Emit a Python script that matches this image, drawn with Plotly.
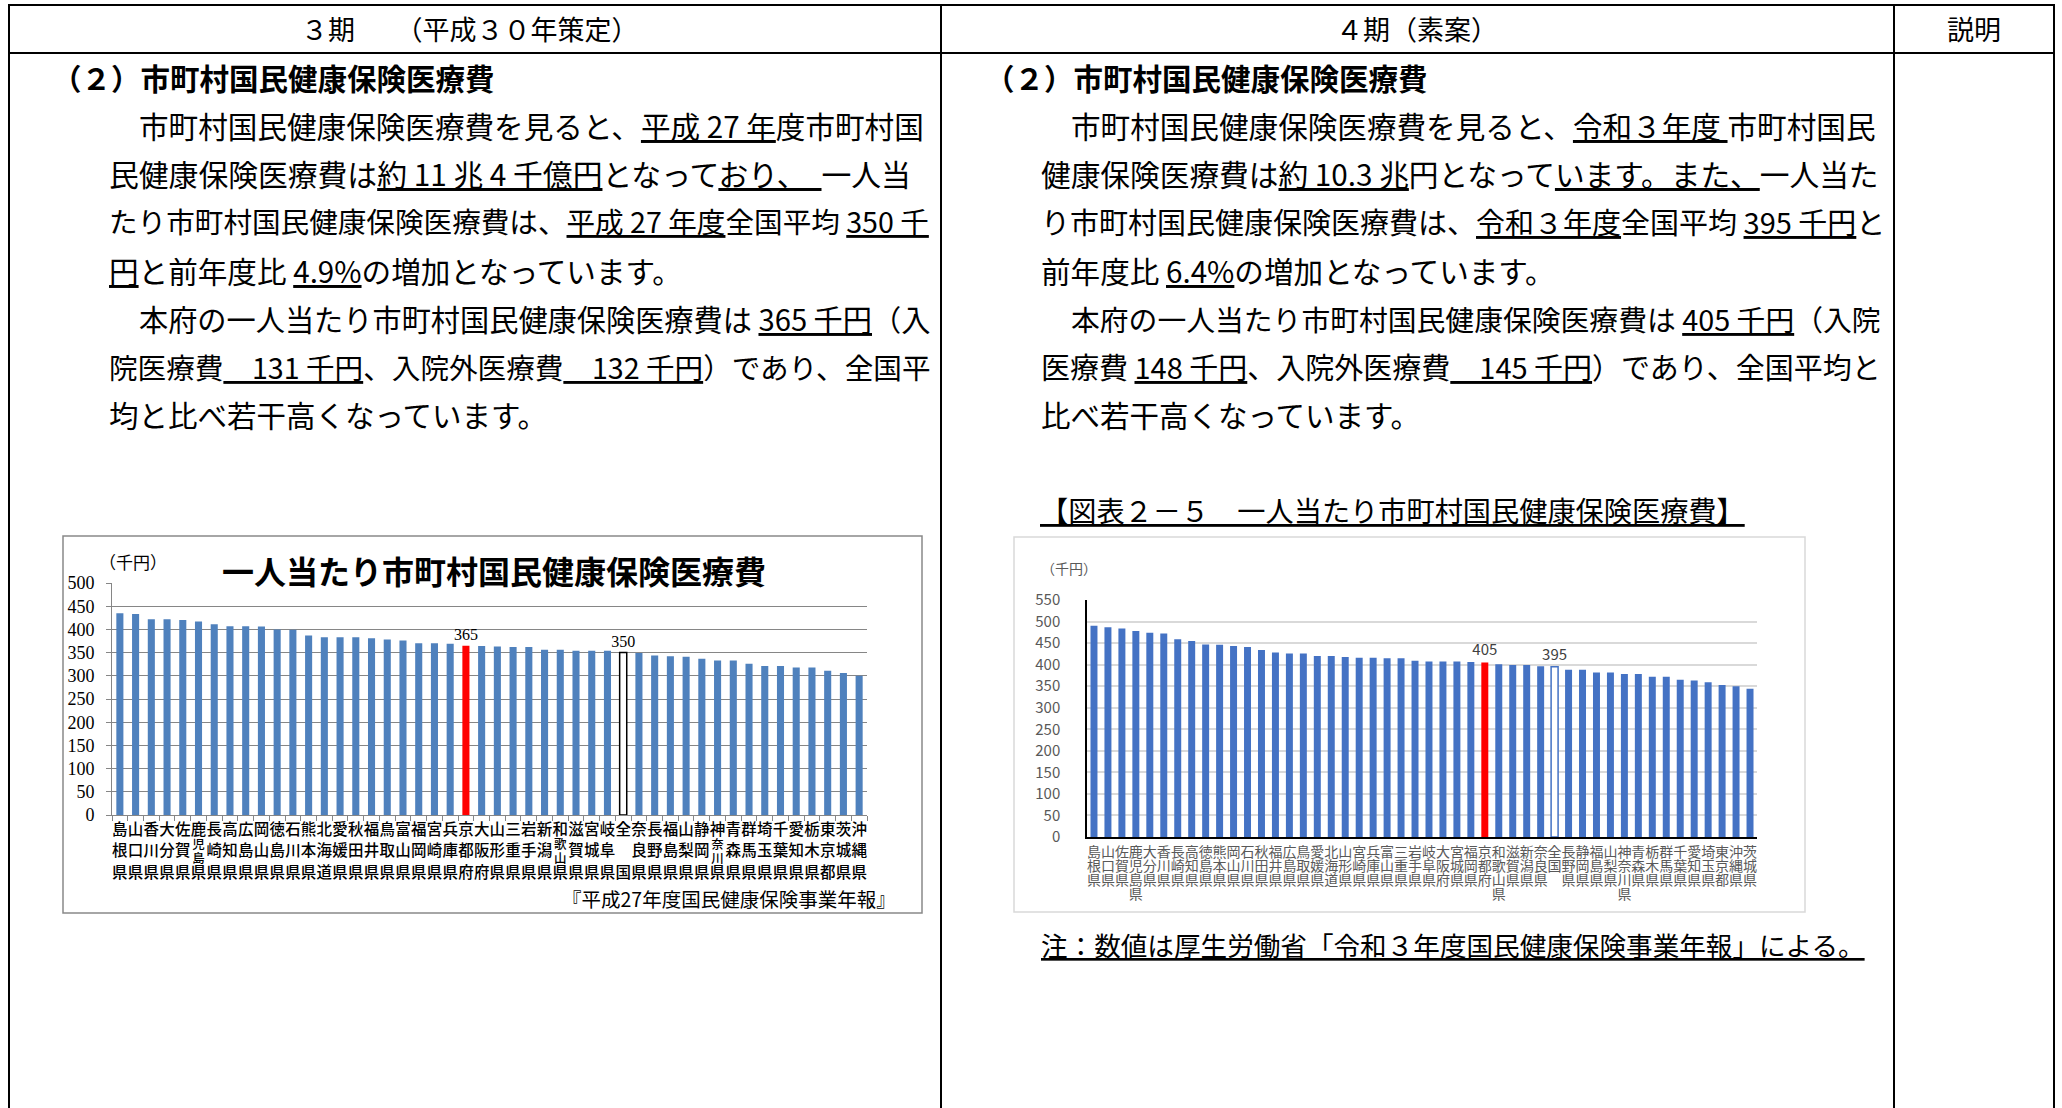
import plotly.graph_objects as go

W, H = 2062, 1108
JP = "Noto Sans CJK JP"
SERIF = "Liberation Serif"

# ---- 平成27年度 一人当たり市町村国保医療費（千円）
pref_h27 = ["島根県", "山口県", "香川県", "大分県", "佐賀県", "鹿児島県", "長崎県", "高知県",
            "広島県", "岡山県", "徳島県", "石川県", "熊本県", "北海道", "愛媛県", "秋田県",
            "福井県", "鳥取県", "富山県", "福岡県", "宮崎県", "兵庫県", "京都府", "大阪府",
            "山形県", "三重県", "岩手県", "新潟県", "和歌山県", "滋賀県", "宮城県", "岐阜県",
            "全国", "奈良県", "長野県", "福島県", "山梨県", "静岡県", "神奈川県", "青森県",
            "群馬県", "埼玉県", "千葉県", "愛知県", "栃木県", "東京都", "茨城県", "沖縄県"]
cost_h27 = [435, 433, 422, 422, 420, 417, 411, 407, 407, 406, 400, 399, 387, 383, 383, 383,
            381, 378, 376, 370, 370, 369, 365, 364, 363, 362, 362, 356, 356, 354, 354, 354,
            350, 349, 344, 342, 341, 337, 333, 333, 326, 321, 321, 318, 318, 311, 306, 300]

# ---- 令和3年度 一人当たり市町村国保医療費（千円）
pref_r3 = ["島根県", "山口県", "佐賀県", "鹿児島県", "大分県", "香川県", "長崎県", "高知県",
           "徳島県", "熊本県", "岡山県", "石川県", "秋田県", "福井県", "広島県", "鳥取県",
           "愛媛県", "北海道", "山形県", "宮崎県", "兵庫県", "富山県", "三重県", "岩手県",
           "岐阜県", "大阪府", "宮城県", "福岡県", "京都府", "和歌山県", "滋賀県", "新潟県",
           "奈良県", "全国", "長野県", "静岡県", "福島県", "山梨県", "神奈川県", "青森県",
           "栃木県", "群馬県", "千葉県", "愛知県", "埼玉県", "東京都", "沖縄県", "茨城県"]
cost_r3 = [490, 487, 484, 478, 474, 472, 459, 455, 447, 446, 443, 441, 434, 428, 426, 426,
           420, 420, 418, 416, 416, 415, 415, 409, 407, 407, 407, 406, 405, 401, 399, 399,
           396, 395, 388, 388, 382, 382, 378, 378, 372, 372, 365, 363, 359, 353, 350, 344]

HOME = "京都府"
NATION = "全国"

y_ticks_h27 = list(range(0, 501, 50))
y_ticks_r3 = list(range(0, 551, 50))

header_cells = ["３期　　（平成３０年策定）", "４期（素案）", "説明"]
section_title = "（２）市町村国民健康保険医療費"

left_lines = [
    "市町村国民健康保険医療費を見ると、<u>平成 27 年</u>度市町村国",
    "民健康保険医療費は<u>約 11 兆 4 千億円</u>となって<u>おり、　</u>一人当",
    "たり市町村国民健康保険医療費は、<u>平成 27 年度</u>全国平均 <u>350 千</u>",
    "<u>円</u>と前年度比 <u>4.9%</u>の増加となっています。",
    "本府の一人当たり市町村国民健康保険医療費は <u>365 千円</u>（入",
    "院医療費<u>　131 千円</u>、入院外医療費<u>　132 千円</u>）であり、全国平",
    "均と比べ若干高くなっています。",
]
right_lines = [
    "市町村国民健康保険医療費を見ると、<u>令和３年度 </u>市町村国民",
    "健康保険医療費は<u>約 10.3 兆</u>円となって<u>います。また、</u>一人当た",
    "り市町村国民健康保険医療費は、<u>令和３年度</u>全国平均 <u>395 千円</u>と",
    "前年度比 <u>6.4%</u>の増加となっています。",
    "本府の一人当たり市町村国民健康保険医療費は <u>405 千円</u>（入院",
    "医療費 <u>148 千円</u>、入院外医療費<u>　145 千円</u>）であり、全国平均と",
    "比べ若干高くなっています。",
]
# per-line type size so each line fills the column width like the justified original
left_sizes = [29.6, 29.8, 28.6, 29.6, 29.2, 28.6, 29.5]
right_sizes = [29.6, 29.7, 29.0, 29.6, 28.8, 29.0, 29.5]
indented = {0, 4}

left_chart_title = "一人当たり市町村国民健康保険医療費"
unit_label = "（千円）"
left_source = "『平成27年度国民健康保険事業年報』"
right_caption = "【図表２－５　一人当たり市町村国民健康保険医療費】"
right_note = "注：数値は厚生労働省「令和３年度国民健康保険事業年報」による。"


def px(x):
    return x / W


def py(y):
    return 1 - y / H


def bar_style(names, base, nation_edge):
    fills, edges, widths = [], [], []
    for n in names:
        if n == HOME:
            fills.append("#FF0000"); edges.append("#FF0000"); widths.append(0)
        elif n == NATION:
            fills.append("#FFFFFF"); edges.append(nation_edge); widths.append(1.5)
        else:
            fills.append(base); edges.append(base); widths.append(0)
    return fills, edges, widths


def value_text(names, values):
    return [str(v) if n in (HOME, NATION) else "" for n, v in zip(names, values)]


fig = go.Figure()

# ---------- left chart: bars ----------
f, e, w = bar_style(pref_h27, "#4F81BD", "#000000")
fig.add_trace(go.Bar(
    x=pref_h27, y=cost_h27, xaxis="x", yaxis="y",
    marker=dict(color=f, line=dict(color=e, width=w)),
    text=value_text(pref_h27, cost_h27), textposition="outside",
    constraintext="none", cliponaxis=False,
    textfont=dict(family=SERIF, size=16, color="#000000"),
    showlegend=False, hoverinfo="x+y",
))

# left chart category labels, one character per row (3文字名は中段を小さく詰める)
lx, ly, lt, ls = [], [], [], []
for n in pref_h27:
    chars = list(n)
    if n == NATION:
        rows, sizes = [0, 2], [15.5, 15.5]
    elif len(chars) == 4:
        rows, sizes = [0, 0.7, 1.33, 2], [15.5, 12.5, 12.5, 15.5]
    else:
        rows, sizes = [0, 1, 2], [15.5, 15.5, 15.5]
    for c, r, s in zip(chars, rows, sizes):
        lx.append(n); ly.append(r); lt.append(c); ls.append(s)
fig.add_trace(go.Scatter(
    x=lx, y=ly, text=lt, mode="text", xaxis="x", yaxis="y3",
    textfont=dict(family=JP, size=ls, color="#000000", weight=500),
    cliponaxis=False, showlegend=False, hoverinfo="skip",
))

# ---------- right chart: bars ----------
f, e, w = bar_style(pref_r3, "#4472C4", "#4472C4")
fig.add_trace(go.Bar(
    x=pref_r3, y=cost_r3, xaxis="x2", yaxis="y2", width=0.5,
    marker=dict(color=f, line=dict(color=e, width=w)),
    text=value_text(pref_r3, cost_r3), textposition="outside",
    constraintext="none", cliponaxis=False,
    textfont=dict(family=JP, size=15, color="#404040"),
    showlegend=False, hoverinfo="x+y",
))

rx, ry, rt = [], [], []
for n in pref_r3:
    for r, c in enumerate(n):
        rx.append(n); ry.append(r); rt.append(c)
fig.add_trace(go.Scatter(
    x=rx, y=ry, text=rt, mode="text", xaxis="x2", yaxis="y4",
    textfont=dict(family=JP, size=14, color="#595959"),
    cliponaxis=False, showlegend=False, hoverinfo="skip",
))

n_left = len(pref_h27)
n_right = len(pref_r3)

# ---------- axes ----------
fig.update_layout(
    xaxis=dict(domain=[px(112), px(867)], anchor="y", range=[-0.5, n_left - 0.5],
               showline=True, linecolor="#868686",
               linewidth=1, ticks="outside", tickson="boundaries", ticklen=5,
               tickcolor="#868686", showticklabels=False, showgrid=False, fixedrange=True,
               automargin=False),
    yaxis=dict(domain=[py(815), py(583)], anchor="x", range=[0, 500], tickvals=y_ticks_h27,
               showline=True, linecolor="#868686", linewidth=1, ticks="outside", ticklen=5,
               tickcolor="#868686", gridcolor="#868686", gridwidth=1, zeroline=False,
               ticklabelstandoff=8, automargin=False,
               tickfont=dict(family=SERIF, size=18, color="#000000")),
    yaxis3=dict(domain=[py(884.75), py(820.25)], anchor="free", position=0, range=[2.5, -0.5],
                visible=False, fixedrange=True, automargin=False),
    xaxis2=dict(domain=[px(1087), px(1757)], anchor="y2", range=[-0.5, n_right - 0.5],
                showline=True, linecolor="#000000",
                linewidth=2, ticks="", showticklabels=False, showgrid=False, fixedrange=True,
                automargin=False),
    yaxis2=dict(domain=[py(837), py(600)], anchor="x2", range=[0, 550], tickvals=y_ticks_r3,
                showline=True, linecolor="#000000", linewidth=1.5, ticks="",
                gridcolor="#D9D9D9", gridwidth=1.5, zeroline=False, ticklabelstandoff=22,
                automargin=False,
                tickfont=dict(family=JP, size=15, color="#595959")),
    yaxis4=dict(domain=[py(903.15), py(845.85)], anchor="free", position=0, range=[3.5, -0.5],
                visible=False, fixedrange=True, automargin=False),
    bargap=0.55,
)

# ---------- page frame ----------
shapes = []
line = dict(color="#000000", width=2)
shapes.append(dict(type="line", xref="paper", yref="paper", x0=px(8), x1=px(2055), y0=py(5), y1=py(5), line=line))
shapes.append(dict(type="line", xref="paper", yref="paper", x0=px(8), x1=px(2055), y0=py(53), y1=py(53), line=line))
for xv in (9, 941, 1894, 2054):
    shapes.append(dict(type="line", xref="paper", yref="paper", x0=px(xv), x1=px(xv), y0=py(5), y1=py(1110), line=line))
# chart frames
shapes.append(dict(type="rect", xref="paper", yref="paper", x0=px(63), x1=px(922), y0=py(913), y1=py(536),
                   line=dict(color="#898989", width=1.5), layer="below"))
shapes.append(dict(type="rect", xref="paper", yref="paper", x0=px(1014), x1=px(1805), y0=py(912), y1=py(537),
                   line=dict(color="#D9D9D9", width=1.5), layer="below"))

ann = []


def put(x, y, text, size=29.5, anchor="left", family=JP, color="#000000"):
    ann.append(dict(x=px(x), y=py(y), xref="paper", yref="paper", text=text, showarrow=False,
                    xanchor=anchor, yanchor="middle", borderpad=0,
                    font=dict(family=family, size=size, color=color)))


# header row
put(470, 28, header_cells[0], size=27, anchor="center")
put(1417, 28, header_cells[1], size=27, anchor="center")
put(1974, 28, header_cells[2], size=27, anchor="center")

# section titles
put(51, 77, "<b>" + section_title + "</b>", size=29.5)
put(984, 77, "<b>" + section_title + "</b>", size=29.5)

line_y = [125, 173, 221, 270, 318, 366, 414]
for i, (t, yv, s) in enumerate(zip(left_lines, line_y, left_sizes)):
    put(138 if i in indented else 108, yv, t, size=s)
for i, (t, yv, s) in enumerate(zip(right_lines, line_y, right_sizes)):
    put(1070 if i in indented else 1040, yv, t, size=s)

# left chart texts
put(494, 570, "<b>" + left_chart_title + "</b>", size=32, anchor="center")
put(98, 561, unit_label, size=17)
put(897, 898, left_source, size=19.5, anchor="right")

# right column caption / note
put(1039, 509, "<u>" + right_caption + "</u>", size=28.2)
put(1040, 568, unit_label, size=14, color="#595959")
put(1040, 944, "<u>" + right_note + "</u>", size=26.6)

fig.update_layout(
    width=W, height=H, margin=dict(l=0, r=0, t=0, b=0, autoexpand=False),
    paper_bgcolor="#FFFFFF", plot_bgcolor="#FFFFFF",
    shapes=shapes, annotations=ann, showlegend=False,
    font=dict(family=JP),
)

fig.write_html("out.html")
